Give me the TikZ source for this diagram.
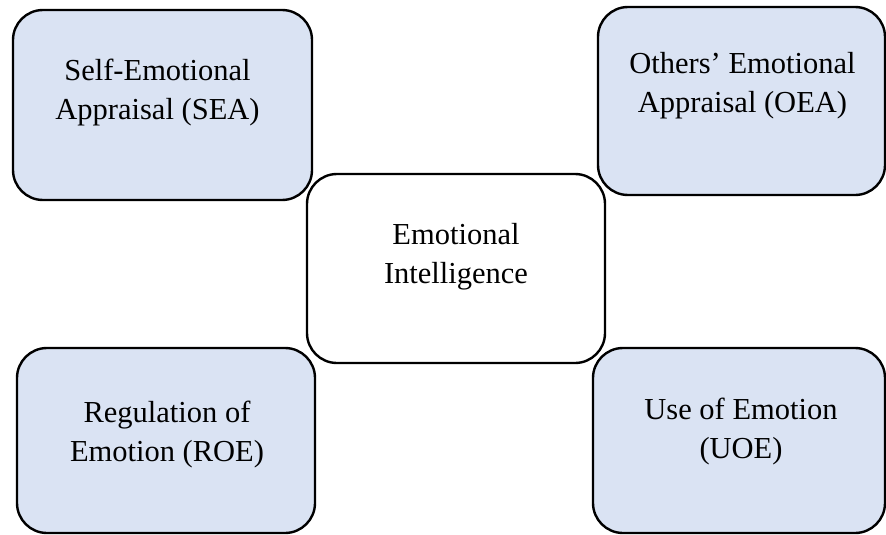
\documentclass[tikz,border=0pt]{standalone}
\usepackage{fontspec}
\setmainfont{Liberation Serif}
\usepackage{xcolor}
\usepackage{tikz}
\usetikzlibrary{positioning, calc}

\definecolor{dimfill}{HTML}{DAE3F3}

\begin{document}
\begin{tikzpicture}[x=1pt,y=-1pt,
  dimbox/.style={draw=black, line width=2.4pt, rounded corners=30pt, fill=dimfill, inner sep=0pt},
  corebox/.style={dimbox, fill=white},
  dimtext/.style={align=center, inner sep=0pt, font=\fontsize{30.5}{39}\selectfont}]
  \useasboundingbox (0,0) rectangle (886,535);
  % four dimensions round the core
  \node[dimbox, minimum width=299pt, minimum height=190pt] (sea) at (162.5,105) {};
  \node[dimbox, minimum width=287pt, minimum height=188pt] (oea) at (741.5,101) {};
  \node[dimbox, minimum width=298pt, minimum height=185pt] (roe) at (166,440.5) {};
  \node[dimbox, minimum width=292pt, minimum height=185pt] (uoe) at (739,440.5) {};
  % core
  \node[corebox, minimum width=298pt, minimum height=189pt] (ei) at (456,268.5) {};
  % labels
  \node[dimtext] (seatext) at ($(sea.center)+(-5,-12)$) {Self-Emotional\\Appraisal (SEA)};
  \node[dimtext] (oeatext) at ($(oea.center)+(1,-15)$) {Others’ Emotional\\Appraisal (OEA)};
  \node[dimtext] (roetext) at ($(roe.center)+(1,-6)$) {Regulation of\\Emotion (ROE)};
  \node[dimtext] (uoetext) at ($(uoe.center)+(2,-9)$) {Use of Emotion\\(UOE)};
  \node[dimtext] (eitext) at ($(ei.center)+(0,-12)$) {Emotional\\Intelligence};
\end{tikzpicture}
\end{document}
